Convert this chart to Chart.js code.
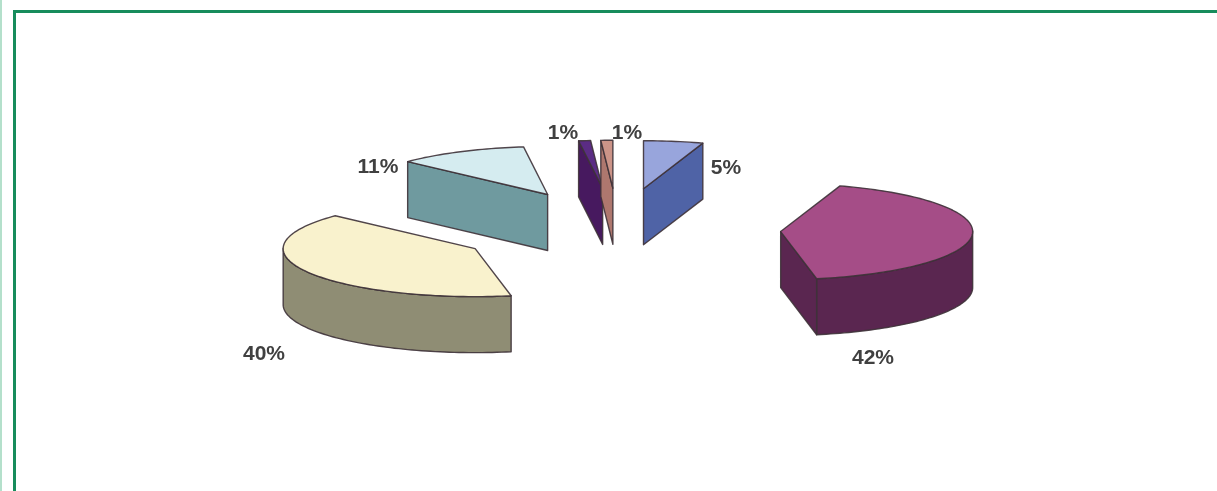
<!DOCTYPE html>
<html>
<head>
<meta charset="utf-8">
<style>
html,body{margin:0;padding:0;background:#fff;overflow:hidden}
#wrap{position:relative;width:1217px;height:491px;background:#fff}
#chart{position:absolute;left:0;top:0;filter:blur(0.6px)}
.edge{position:absolute;background:#178c5c}
</style>
<script src="https://cdn.jsdelivr.net/npm/chart.js@4"></script>
</head>
<body>
<div id="wrap">
  <canvas id="chart" width="1217" height="491"></canvas>
  <div class="edge" style="left:0;top:0;width:1.5px;height:491px;background:#b4e0cb"></div>
  <div class="edge" style="left:13px;top:10px;width:1204px;height:3px"></div>
  <div class="edge" style="left:13px;top:10px;width:3px;height:481px"></div>
</div>
<script>
const categories = ['Slice 1', 'Slice 2', 'Slice 3', 'Slice 4', 'Slice 5', 'Slice 6'];
const values = [5, 42, 40, 11, 1, 1];
const valueLabels = ['5%', '42%', '40%', '11%', '1%', '1%'];
const topColors = ['#98A5DC', '#A54D87', '#F9F2CD', '#D5ECF0', '#5B2C84', '#CC9488'];
const wallColors = ['#4F63A6', '#5A2650', '#8F8D74', '#6F9A9F', '#47195F', '#AE776E'];
const explodeOffsets = [163, 163, 163, 155, 163, 163];

const SQUASH = 0.25, DEPTH = 56, RADIUS = 192;
const labelPositions = [[726, 168], [873, 358], [264, 354], [378, 167], [563, 133], [627, 133]];

const pie3d = {
  id: 'pie3d',
  beforeDatasetDraw(chart, args) {
    const ctx = chart.ctx;
    const arcs = chart.getDatasetMeta(args.index).data;
    ctx.save();
    ctx.lineJoin = 'round';
    ctx.strokeStyle = 'rgba(62,50,56,0.9)';
    ctx.lineWidth = 1.4;
    arcs.forEach((arc, i) => {
      const p = arc.getProps(['x', 'y', 'startAngle', 'endAngle', 'outerRadius']);
      const mid = (p.startAngle + p.endAngle) / 2;
      const off = arc.options.offset;
      const ax = p.x + off * Math.cos(mid);
      const ay = p.y + SQUASH * off * Math.sin(mid);
      const pts = [[ax, ay]];
      const steps = Math.max(2, Math.ceil((p.endAngle - p.startAngle) * 40));
      for (let s = 0; s <= steps; s++) {
        const a = p.startAngle + (p.endAngle - p.startAngle) * s / steps;
        pts.push([ax + p.outerRadius * Math.cos(a), ay + SQUASH * p.outerRadius * Math.sin(a)]);
      }
      pts.push([ax, ay]);
      const faces = [];
      let run = null;
      for (let k = 0; k < pts.length - 1; k++) {
        const radial = k === 0 || k === pts.length - 2;
        if (pts[k + 1][0] - pts[k][0] < -1e-6) {
          if (run && !radial && !run.radial) run.pts.push(pts[k + 1]);
          else { run = {radial, pts: [pts[k], pts[k + 1]]}; faces.push(run); }
        } else run = null;
      }
      ctx.fillStyle = wallColors[i];
      faces.forEach(f => {
        ctx.beginPath();
        f.pts.forEach((q, n) => n ? ctx.lineTo(q[0], q[1]) : ctx.moveTo(q[0], q[1]));
        for (let n = f.pts.length - 1; n >= 0; n--) ctx.lineTo(f.pts[n][0], f.pts[n][1] + DEPTH);
        ctx.closePath();
        ctx.fill();
        ctx.stroke();
      });
      ctx.fillStyle = arc.options.backgroundColor;
      ctx.beginPath();
      pts.forEach((q, n) => n ? ctx.lineTo(q[0], q[1]) : ctx.moveTo(q[0], q[1]));
      ctx.closePath();
      ctx.fill();
      ctx.stroke();
    });
    ctx.fillStyle = '#404040';
    ctx.font = 'bold 21px "Liberation Sans", Arial, sans-serif';
    ctx.textAlign = 'center';
    ctx.textBaseline = 'middle';
    valueLabels.forEach((t, i) => ctx.fillText(t, labelPositions[i][0], labelPositions[i][1]));
    ctx.restore();
    return false;
  }
};

new Chart(document.getElementById('chart'), {
  type: 'pie',
  data: {
    labels: categories,
    datasets: [{
      data: values,
      backgroundColor: topColors,
      borderWidth: 0,
      offset: explodeOffsets
    }]
  },
  options: {
    responsive: false,
    animation: false,
    radius: RADIUS,
    layout: {padding: {left: 19, right: 0, top: 0, bottom: 33}},
    plugins: {legend: {display: false}, tooltip: {enabled: false}}
  },
  plugins: [pie3d]
});
</script>
</body>
</html>
